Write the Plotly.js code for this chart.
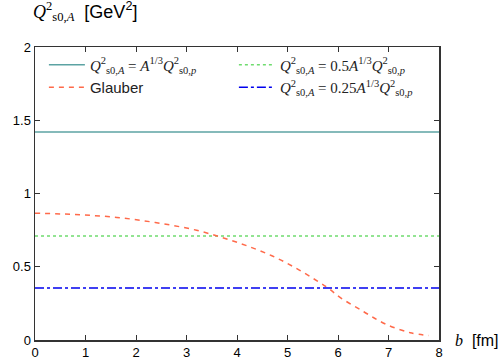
<!DOCTYPE html>
<html><head><meta charset="utf-8">
<script src="https://cdn.plot.ly/plotly-3.0.1.min.js"></script>
<style>html,body{margin:0;padding:0;background:#fff}#chart{width:503px;height:359px}</style>
</head><body><div id="chart"></div>
<script>
// Data
const bRange = [0, 8];
const qFull = 1.42;     // A^{1/3} Q^2_{s0,p}
const qHalf = 0.71;     // 0.5 A^{1/3} Q^2_{s0,p}
const qQuarter = 0.355; // 0.25 A^{1/3} Q^2_{s0,p}
const glauberB = [0, 0.56, 1.09, 1.62, 2.15, 2.68, 3.2, 3.7, 4.19, 4.69, 5.15, 5.61, 5.81, 6.04, 6.51, 6.94, 7.43, 7.8];
const glauberQ = [0.866, 0.86, 0.851, 0.837, 0.814, 0.785, 0.749, 0.70, 0.644, 0.575, 0.494, 0.398, 0.353, 0.291, 0.193, 0.109, 0.05, 0.03];
const xTicks = [0,1,2,3,4,5,6,7,8];
const yTicks = [0,0.5,1,1.5,2];
const yTickText = ['0','0.5','1','1.5','2'];

const Q = '<i>Q</i><sup>2</sup><sub>s0,<i>A</i></sub>';
const Qp = '<i>Q</i><sup>2</sup><sub>s0,<i>p</i></sub>';
const A13 = '<i>A</i><sup>1/3</sup>';

const traces = [
  {x: bRange, y: [qFull, qFull], mode: 'lines', name: Q + ' = ' + A13 + Qp,
   line: {color: '#5ca3a3', width: 1.5}},
  {x: bRange, y: [qHalf, qHalf], mode: 'lines', name: Q + ' = 0.5' + A13 + Qp,
   line: {color: '#6fdc6f', width: 1.5, dash: 'dot'}},
  {x: glauberB, y: glauberQ, mode: 'lines', line: {color: '#ff6a4a', width: 1.5, dash: '5px,5px', shape: 'spline'},
   name: '<span style="font-family:\'Liberation Sans\'">Glauber</span>'},
  {x: bRange, y: [qQuarter, qQuarter], mode: 'lines', name: Q + ' = 0.25' + A13 + Qp,
   line: {color: '#0000ee', width: 1.5, dash: 'dashdot'}}
];

const axisCommon = {showgrid: false, zeroline: false, showline: true, mirror: 'ticks',
  linecolor: '#333', linewidth: 1.5, ticks: 'inside', ticklen: 5, tickcolor: '#333',
  tickfont: {family: 'Liberation Sans, Arial, sans-serif', size: 13, color: '#000'}};

const layout = {
  width: 503, height: 359,
  margin: {l: 35, r: 64, t: 47, b: 19},
  paper_bgcolor: '#fff', plot_bgcolor: '#fff',
  showlegend: true,
  legend: {orientation: 'h', x: 0.022, y: 0.995, xanchor: 'left', yanchor: 'top',
    entrywidth: 139, itemwidth: 36, bgcolor: 'rgba(0,0,0,0)', tracegroupgap: 0,
    font: {family: 'Liberation Serif, DejaVu Serif, serif', size: 15, color: '#222'}},
  xaxis: Object.assign({}, axisCommon, {range: [0, 8], tickvals: xTicks}),
  yaxis: Object.assign({}, axisCommon, {range: [0, 2], tickvals: yTicks, ticktext: yTickText}),
  annotations: [
    {xref: 'paper', yref: 'paper', x: -0.01, y: 1.07, xanchor: 'left', yanchor: 'bottom', showarrow: false,
     text: '<span style="font-family:\'Liberation Serif\'">' + Q + '</span>  [GeV<sup>2</sup>]',
     font: {family: 'Liberation Sans, Arial, sans-serif', size: 18, color: '#000'}},
    {xref: 'paper', yref: 'paper', x: 1.035, y: 0.0, xanchor: 'left', yanchor: 'middle', showarrow: false,
     text: '<span style="font-family:\'Liberation Serif\'"><i>b</i></span>  [fm]',
     font: {family: 'Liberation Sans, Arial, sans-serif', size: 16, color: '#000'}}
  ]
};

Plotly.newPlot('chart', traces, layout, {displayModeBar: false, staticPlot: true});
</script>
</body></html>
